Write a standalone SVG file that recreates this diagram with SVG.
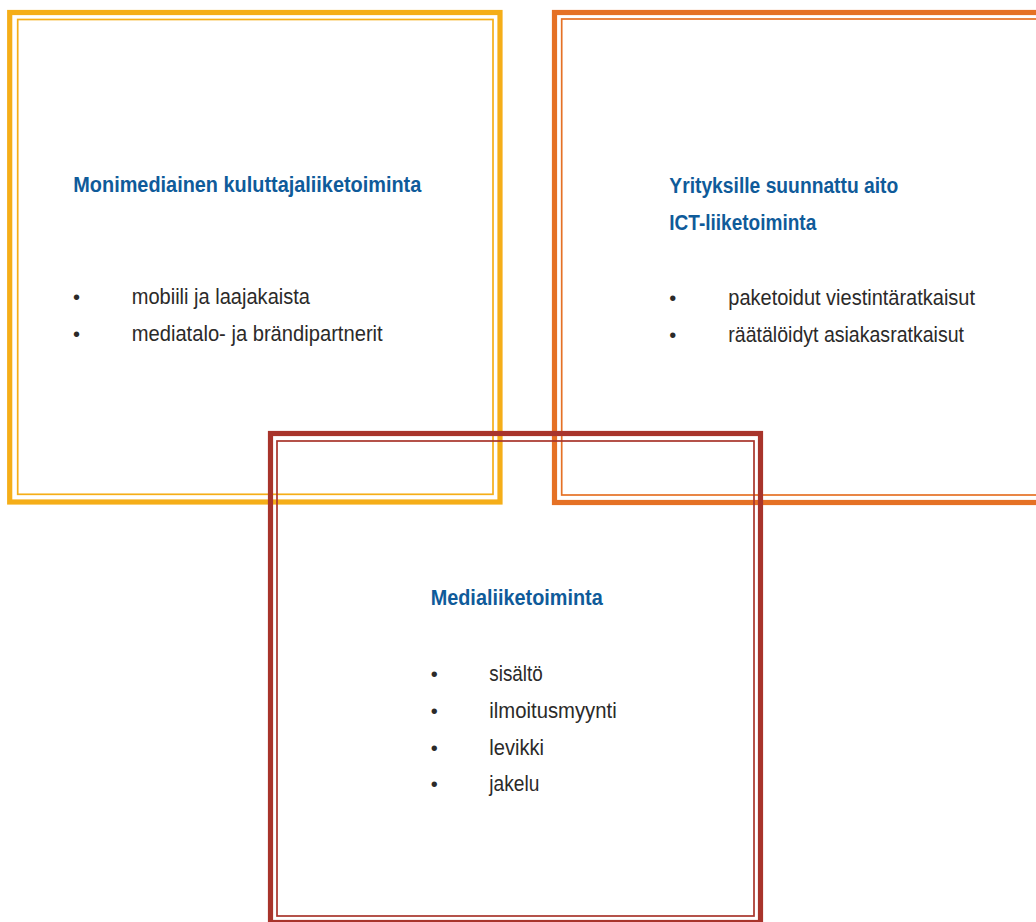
<svg xmlns="http://www.w3.org/2000/svg" width="1036" height="922" viewBox="0 0 1036 922">
<style>
.bg{fill:#ffffff}
.frame{fill:none}
.thick{stroke-width:5.2}
.thin{stroke-width:1.7}
.yel{stroke:#F5AE18}
.org{stroke:#E57125}
.red{stroke:#A8342B}
.head{font-family:"Liberation Sans Narrow","Liberation Sans",Arial,sans-serif;font-weight:bold;font-size:21.5px;fill:#0F5B9A}
.body{font-family:"Liberation Sans Narrow","Liberation Sans",Arial,sans-serif;font-size:22px;fill:#2B2A29}
.dot{font-family:"Liberation Sans",Arial,sans-serif;font-size:20px;fill:#2B2A29}
</style>
<rect class="bg" x="0" y="0" width="1036" height="922"/>
<g id="node-kuluttaja">
  <rect class="frame thick yel" x="9.7" y="12.5" width="490.3" height="489.5"/>
  <rect class="frame thin yel" x="17.7" y="19.5" width="475.3" height="474.8"/>
  <text class="head" x="73.3" y="191.7" textLength="348" lengthAdjust="spacingAndGlyphs">Monimediainen kuluttajaliiketoiminta</text>
  <text class="dot" x="73" y="304">•</text>
  <text class="body" x="131.7" y="304" textLength="178.3" lengthAdjust="spacingAndGlyphs">mobiili ja laajakaista</text>
  <text class="dot" x="73" y="341">•</text>
  <text class="body" x="131.7" y="341" textLength="251" lengthAdjust="spacingAndGlyphs">mediatalo- ja brändipartnerit</text>
</g>
<g id="node-ict">
  <rect class="frame thick org" x="554.5" y="12.5" width="500" height="490"/>
  <rect class="frame thin org" x="561.7" y="19" width="490" height="476"/>
  <text class="head" x="669.3" y="193" textLength="229" lengthAdjust="spacingAndGlyphs">Yrityksille suunnattu aito</text>
  <text class="head" x="669.3" y="230" textLength="147" lengthAdjust="spacingAndGlyphs">ICT-liiketoiminta</text>
  <text class="dot" x="669.2" y="305">•</text>
  <text class="body" x="728.3" y="305" textLength="246.7" lengthAdjust="spacingAndGlyphs">paketoidut viestintäratkaisut</text>
  <text class="dot" x="669.2" y="341.5">•</text>
  <text class="body" x="728.3" y="341.5" textLength="235.7" lengthAdjust="spacingAndGlyphs">räätälöidyt asiakasratkaisut</text>
</g>
<g id="node-media">
  <rect class="frame thick red" x="270.5" y="433.5" width="490" height="489"/>
  <rect class="frame thin red" x="277" y="441" width="477" height="475"/>
  <text class="head" x="430.7" y="605" textLength="172" lengthAdjust="spacingAndGlyphs">Medialiiketoiminta</text>
  <text class="dot" x="430.8" y="680.5">•</text>
  <text class="body" x="489.3" y="680.5" textLength="53.4" lengthAdjust="spacingAndGlyphs">sisältö</text>
  <text class="dot" x="430.8" y="717.5">•</text>
  <text class="body" x="489.3" y="717.5" textLength="127.4" lengthAdjust="spacingAndGlyphs">ilmoitusmyynti</text>
  <text class="dot" x="430.8" y="754.5">•</text>
  <text class="body" x="489.3" y="754.5" textLength="54.7" lengthAdjust="spacingAndGlyphs">levikki</text>
  <text class="dot" x="430.8" y="791">•</text>
  <text class="body" x="489.3" y="791" textLength="50" lengthAdjust="spacingAndGlyphs">jakelu</text>
</g>
<g id="connectors"/>
</svg>
